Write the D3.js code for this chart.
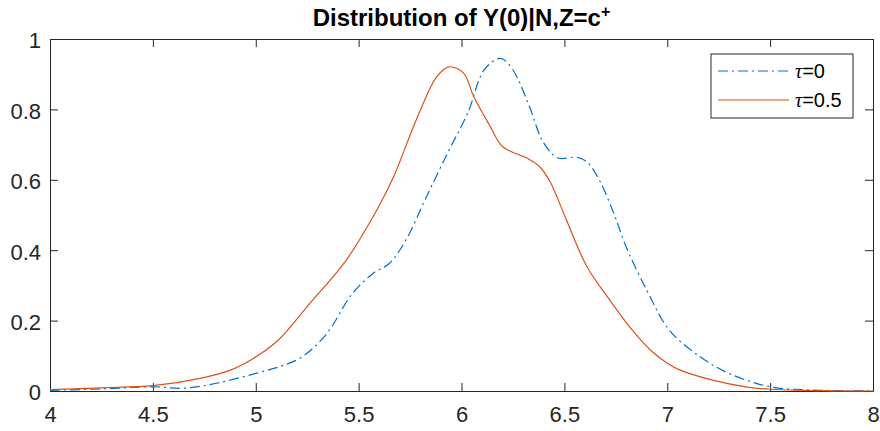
<!DOCTYPE html>
<html>
<head>
<meta charset="utf-8">
<script src="https://cdn.jsdelivr.net/npm/d3@7"></script>
<style>
  body { margin: 0; background: #fff; }
  text { font-family: "Liberation Sans", Arial, sans-serif; }
</style>
</head>
<body>
<svg width="880" height="431"></svg>
<script>
// waarden
var xTicks = [4, 4.5, 5, 5.5, 6, 6.5, 7, 7.5, 8];
var yTicks = [0, 0.2, 0.4, 0.6, 0.8, 1];
var seriesNames = ["\u03c4=0", "\u03c4=0.5"];

// tau = 0 (blauw, streep-punt)
var x0 = [4.0, 4.25, 4.5, 4.65, 4.81, 5.0, 5.12, 5.22, 5.34, 5.47, 5.57, 5.65, 5.73, 5.83, 5.94, 6.03, 6.11, 6.19, 6.25, 6.33, 6.4, 6.47, 6.56, 6.61, 6.67, 6.74, 6.8, 6.9, 7.01, 7.16, 7.3, 7.5, 7.7, 8.0];
var y0 = [0.002, 0.006, 0.012, 0.008, 0.022, 0.05, 0.07, 0.095, 0.159, 0.277, 0.334, 0.363, 0.429, 0.552, 0.685, 0.789, 0.912, 0.945, 0.912, 0.808, 0.704, 0.662, 0.664, 0.651, 0.599, 0.505, 0.41, 0.287, 0.173, 0.097, 0.05, 0.012, 0.003, 0.0];

// tau = 0.5 (oranje, doorgetrokken)
var x1 = [4.0, 4.25, 4.5, 4.73, 4.88, 4.99, 5.11, 5.25, 5.44, 5.57, 5.67, 5.78, 5.88, 5.94, 6.01, 6.06, 6.14, 6.2, 6.32, 6.38, 6.43, 6.51, 6.61, 6.72, 6.83, 6.93, 7.0, 7.06, 7.22, 7.39, 7.5, 7.75, 8.0];
var y1 = [0.004, 0.009, 0.015, 0.036, 0.06, 0.093, 0.145, 0.24, 0.372, 0.495, 0.609, 0.77, 0.893, 0.921, 0.903, 0.836, 0.751, 0.694, 0.661, 0.637, 0.595, 0.486, 0.353, 0.259, 0.173, 0.11, 0.079, 0.06, 0.031, 0.011, 0.005, 0.001, 0.0];

var svg = d3.select("svg"),
    margin = { top: 39, right: 7, bottom: 40, left: 50 },
    width = +svg.attr("width") - margin.left - margin.right,
    height = +svg.attr("height") - margin.top - margin.bottom;

var x = d3.scaleLinear().domain([4, 8]).range([0, width]),
    y = d3.scaleLinear().domain([0, 1]).range([height, 0]);

var g = svg.append("g")
    .attr("transform", "translate(" + margin.left + "," + margin.top + ")");

var axisColor = "#262626";

// assen met tick-marks naar binnen, zoals in matlab
g.append("g")
    .attr("transform", "translate(0," + height + ")")
    .call(d3.axisBottom(x).tickValues(xTicks).tickSizeInner(-8).tickSizeOuter(0).tickPadding(15).tickFormat(d3.format("")))
    .call(function (a) {
        a.select(".domain").attr("stroke", axisColor);
        a.selectAll("line").attr("stroke", axisColor);
        a.selectAll("text").attr("font-size", 22).attr("fill", axisColor).attr("dy", "0.71em");
    });

g.append("g")
    .call(d3.axisLeft(y).tickValues(yTicks).tickSizeInner(-8).tickSizeOuter(0).tickPadding(9).tickFormat(d3.format("")))
    .call(function (a) {
        a.select(".domain").attr("stroke", axisColor);
        a.selectAll("line").attr("stroke", axisColor);
        a.selectAll("text").attr("font-size", 22).attr("fill", axisColor).attr("dy", "0.4em");
    });

// bovenste en rechter as
g.append("g")
    .call(d3.axisTop(x).tickValues(xTicks).tickSizeInner(-8).tickSizeOuter(0).tickFormat(""))
    .call(function (a) {
        a.select(".domain").attr("stroke", axisColor);
        a.selectAll("line").attr("stroke", axisColor);
    });

g.append("g")
    .attr("transform", "translate(" + width + ",0)")
    .call(d3.axisRight(y).tickValues(yTicks).tickSizeInner(-8).tickSizeOuter(0).tickFormat(""))
    .call(function (a) {
        a.select(".domain").attr("stroke", axisColor);
        a.selectAll("line").attr("stroke", axisColor);
    });

var line = d3.line()
    .x(function (d) { return x(d[0]); })
    .y(function (d) { return y(d[1]); })
    .curve(d3.curveCatmullRom.alpha(0.5));

g.append("path")
    .datum(d3.zip(x0, y0))
    .attr("fill", "none")
    .attr("stroke", "#0072BD")
    .attr("stroke-width", 1.2)
    .attr("stroke-dasharray", "10,4,2,4")
    .attr("d", line);

g.append("path")
    .datum(d3.zip(x1, y1))
    .attr("fill", "none")
    .attr("stroke", "#D95319")
    .attr("stroke-width", 1.2)
    .attr("d", line);

// titel
var title = svg.append("text")
    .attr("x", margin.left + width / 2)
    .attr("y", 26)
    .attr("text-anchor", "middle")
    .attr("font-size", 24)
    .attr("font-weight", "bold")
    .attr("fill", "#000");
title.append("tspan").text("Distribution of Y(0)|N,Z=c");
title.append("tspan").attr("font-size", 16).attr("dy", -9).text("+");

// legenda
var legend = svg.append("g").attr("transform", "translate(711,54)");
legend.append("rect")
    .attr("width", 142).attr("height", 64)
    .attr("fill", "#fff").attr("stroke", axisColor).attr("stroke-width", 1);

var legendStyles = [
    { color: "#0072BD", dash: "10,4,2,4" },
    { color: "#D95319", dash: null }
];
seriesNames.forEach(function (name, i) {
    var yy = 17 + i * 29;
    legend.append("line")
        .attr("x1", 7).attr("x2", 78).attr("y1", yy).attr("y2", yy)
        .attr("stroke", legendStyles[i].color).attr("stroke-width", 1.2)
        .attr("stroke-dasharray", legendStyles[i].dash);
    var t = legend.append("text")
        .attr("x", 84).attr("y", yy + 7)
        .attr("font-size", 20).attr("fill", "#000");
    t.append("tspan").attr("font-family", "Liberation Serif, serif").attr("font-style", "italic").text(name.charAt(0));
    t.append("tspan").text(name.slice(1));
});
</script>
</body>
</html>
